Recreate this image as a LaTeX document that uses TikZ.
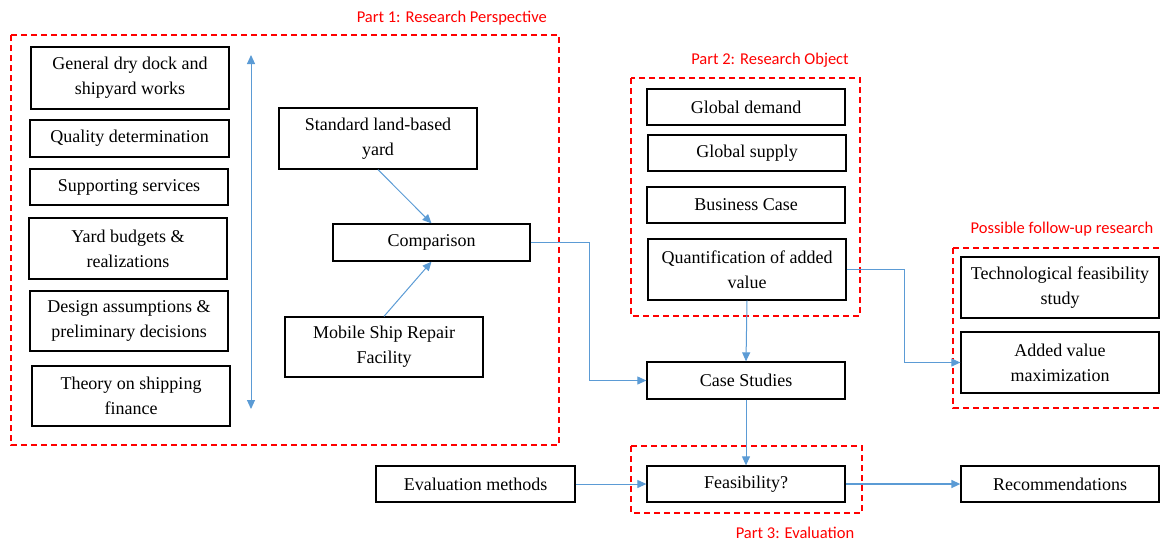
\documentclass[tikz,border=0pt]{standalone}
\usepackage{fontspec}
\setmainfont{Liberation Serif}
\newfontfamily\labelfont{Carlito}
\usetikzlibrary{arrows.meta}
\definecolor{flowblue}{RGB}{91,155,213}
\definecolor{partred}{RGB}{255,0,0}
\tikzset{
  box/.style={draw=black, line width=1.3pt, fill=white, align=center, inner sep=2pt,
    font=\fontsize{18}{25}\selectfont},
  part/.style={draw=partred, line width=1.6pt, dash pattern=on 6pt off 4pt},
  partlabel/.style={text=partred, font=\labelfont\fontsize{16.5}{18}\selectfont, inner sep=0pt},
  flow/.style={draw=flowblue, line width=1pt, -{Triangle[length=9pt,width=8pt]}},
  flowboth/.style={draw=flowblue, line width=1pt, {Triangle[length=9pt,width=8pt]}-{Triangle[length=9pt,width=8pt]}}
}
\begin{document}
\begin{tikzpicture}[x=1pt,y=-1pt]
\useasboundingbox (0,0) rectangle (1160,542);

% group frames
\draw[part] (11,35) rectangle (559,445);
\draw[part] (631,78) rectangle (860,316);
\draw[part] (631,446) rectangle (862,513);
\draw[part] (953,248) -- (1160,248);
\draw[part] (953,248) -- (953,408) -- (1160,408);

% group labels
\node[partlabel, anchor=east] (p1) at (547,18) {Part 1: Research Perspective};
\node[partlabel] (p2) at (770,60) {Part 2: Research Object};
\node[partlabel] (p3) at (795,533) {Part 3: Evaluation};
\node[partlabel] (p4) at (1062,229) {Possible follow-up research};

% part 1
\node[box, minimum width=198, minimum height=62] (gen) at (130,78) {General dry dock and\\shipyard works};
\node[box, minimum width=199, minimum height=37] (qual) at (129.5,138.5) {Quality determination};
\node[box, minimum width=198, minimum height=36] (supp) at (129,187) {Supporting services};
\node[box, minimum width=198, minimum height=61] (budg) at (128,248.5) {Yard budgets \&\\realizations};
\node[box, minimum width=198, minimum height=60] (desg) at (129,321) {Design assumptions \&\\preliminary decisions};
\node[box, minimum width=198, minimum height=60] (theo) at (131,396) {Theory on shipping\\finance};

\coordinate (vtop) at (251,55);
\coordinate (vbot) at (251,409);
\draw[flowboth] (vtop) -- (vbot);

\node[box, minimum width=198, minimum height=61] (std) at (378,138.5) {Standard land-based\\yard};
\node[box, minimum width=197, minimum height=37] (cmp) at (431.5,242.5) {Comparison};
\node[box, minimum width=198, minimum height=60] (mob) at (384,347) {Mobile Ship Repair\\Facility};

% part 2
\node[box, minimum width=198, minimum height=36] (dem) at (746,107) {Global demand};
\node[box, minimum width=198, minimum height=36] (sup) at (747,153) {Global supply};
\node[box, minimum width=198, minimum height=36] (bus) at (746,205) {Business Case};
\node[box, minimum width=198, minimum height=61] (qnt) at (747,269.5) {Quantification of added\\value};

\node[box, minimum width=198, minimum height=37] (cs) at (746,380.5) {Case Studies};

% part 3
\node[box, minimum width=199, minimum height=36] (eval) at (475.5,484) {Evaluation methods};
\node[box, minimum width=198, minimum height=36] (feas) at (746,484) {Feasibility?};
\node[box, minimum width=198, minimum height=36] (rec) at (1060,484) {Recommendations};

% follow-up research
\node[box, minimum width=198, minimum height=61] (tech) at (1060,287.5) {Technological feasibility\\study};
\node[box, minimum width=198, minimum height=61] (addv) at (1060,362.5) {Added value\\maximization};

% connectors
\coordinate (j1) at (589,0);
\coordinate (j2) at (904,0);
\draw[flow] (std.south) -- (cmp.north);
\draw[flow] (mob.north) -- (cmp.south);
\draw[flow] (cmp.east) -- (cmp.east -| j1) |- (cs.west);
\draw[flow] (qnt.south) -- (cs.north);
\draw[flow] (qnt.east) -- (qnt.east -| j2) |- (addv.west);
\draw[flow] (cs.south) -- (feas.north);
\draw[flow] (eval.east) -- (feas.west);
\draw[flow, line width=1.5pt] (feas.east) -- (rec.west);
\end{tikzpicture}
\end{document}
